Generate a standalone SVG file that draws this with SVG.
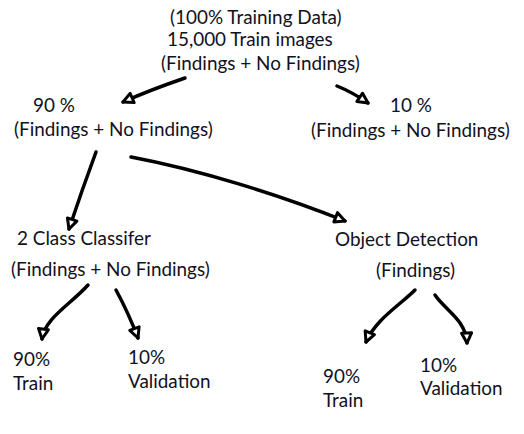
<svg xmlns="http://www.w3.org/2000/svg" width="524" height="434" viewBox="0 0 524 434">
<style>
text{font-family:Lato,"Open Sans","Liberation Sans",sans-serif;font-size:18.9px;fill:#111122}
.c path{fill:none;stroke:#000;stroke-width:3.5;stroke-linecap:round;stroke-linejoin:round}
</style>
<defs>
<marker id="ah" viewBox="-2 -8 16 16" markerWidth="16" markerHeight="16" refX="10" refY="0" orient="auto" markerUnits="userSpaceOnUse">
<path d="M0,-5 L10,0 L0,5 Z" fill="#fff" stroke="#000" stroke-width="3" stroke-linejoin="round"/>
</marker>
</defs>
<rect width="524" height="434" fill="#fff"/>
<g class="c" id="connectors">
<path d="M185,78 Q150,90 123,102" marker-end="url(#ah)"/>
<path d="M337,86 Q352,92 368,103" marker-end="url(#ah)"/>
<path d="M96,152 Q82,190 69,229" marker-end="url(#ah)"/>
<path d="M131,157 C200,170 280,195 345,221" marker-end="url(#ah)"/>
<path d="M88,285 C70,305 45,318 42,339" marker-end="url(#ah)"/>
<path d="M116,290 Q128,312 138,338" marker-end="url(#ah)"/>
<path d="M415,290 C400,305 375,320 366,342" marker-end="url(#ah)"/>
<path d="M435,295 C445,310 466,320 467,343" marker-end="url(#ah)"/>
</g>
<g id="root">
<text x="170" y="24">(100% Training Data)</text>
<text x="167" y="46">15,000 Train images</text>
<text x="161" y="70">(Findings + No Findings)</text>
</g>
<g id="n90">
<text x="33" y="112">90 %</text>
<text x="14" y="136">(Findings + No Findings)</text>
</g>
<g id="n10">
<text x="390" y="112">10 %</text>
<text x="311" y="137">(Findings + No Findings)</text>
</g>
<g id="classifier">
<text x="17" y="245">2 Class Classifer</text>
<text x="11" y="276">(Findings + No Findings)</text>
</g>
<g id="detection">
<text x="335" y="246">Object Detection</text>
<text x="376" y="277">(Findings)</text>
</g>
<g id="c-train">
<text x="13" y="366">90%</text>
<text x="13" y="390">Train</text>
</g>
<g id="c-val">
<text x="128" y="364">10%</text>
<text x="128" y="388">Validation</text>
</g>
<g id="d-train">
<text x="323" y="383">90%</text>
<text x="323" y="407">Train</text>
</g>
<g id="d-val">
<text x="420" y="372">10%</text>
<text x="420" y="395">Validation</text>
</g>
</svg>
